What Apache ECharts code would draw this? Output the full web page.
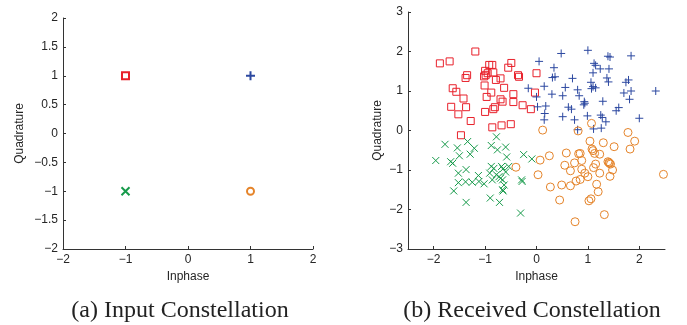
<!DOCTYPE html>
<html>
<head>
<meta charset="utf-8">
<script src="https://cdn.jsdelivr.net/npm/echarts@6/dist/echarts.min.js"></script>
<style>
  html, body { margin: 0; padding: 0; background: #fff; }
  #chart { width: 687px; height: 325px; }
</style>
</head>
<body>
<div id="chart"></div>
<script>
// 发送星座 (input constellation)
var inputSquare = [[-1, 1]];
var inputPlus = [[1, 1]];
var inputCross = [[-1, -1]];
var inputCircle = [[1, -1]];

// 接收星座 (received constellation)
var rxSquare = [
  [-1.88, 1.70], [-1.69, 1.75], [-1.19, 2.00], [-1.35, 1.40], [-1.38, 1.33], [-1.63, 1.07],
  [-1.56, 0.98], [-1.42, 0.81], [-1.66, 0.60], [-1.37, 0.59], [-1.52, 0.41], [-1.28, 0.24],
  [-1.47, -0.12], [-0.92, 1.66], [-0.86, 1.66], [-1.00, 1.51], [-0.99, 1.40], [-1.02, 1.37],
  [-0.95, 1.45], [-0.84, 1.47], [-0.79, 1.28], [-0.70, 1.32], [-0.55, 1.59], [-0.49, 1.71],
  [-0.36, 1.40], [-0.34, 1.36], [0.00, 1.45], [-1.01, 1.14], [-0.88, 0.96], [-0.63, 1.08],
  [-0.97, 0.85], [-0.70, 0.79], [-0.66, 0.73], [-0.45, 0.92], [-0.45, 0.72], [-0.81, 0.59],
  [-0.84, 0.54], [-1.00, 0.47], [-0.27, 0.64], [-0.11, 0.54], [-0.03, 0.96], [-0.86, 0.08],
  [-0.68, 0.13], [-0.50, 0.16]
];
var rxPlus = [
  [0.05, 1.75], [0.48, 1.95], [1.00, 2.03], [0.34, 1.59], [0.36, 1.36], [0.31, 1.34],
  [0.70, 1.32], [1.12, 1.70], [1.15, 1.65], [1.39, 1.88], [1.43, 1.86], [1.84, 1.89],
  [1.10, 1.46], [1.24, 1.56], [1.41, 1.56], [1.37, 1.33], [1.40, 1.23], [1.06, 1.22],
  [1.10, 1.11], [1.15, 1.08], [1.07, 1.06], [1.74, 1.22], [1.79, 1.28], [1.84, 1.00],
  [1.70, 0.95], [2.32, 1.00], [1.81, 0.79], [1.60, 0.58], [1.55, 0.50], [2.00, 0.31],
  [-0.16, 1.07], [0.00, 0.85], [0.15, 1.12], [0.30, 0.92], [0.51, 0.88], [0.56, 1.09],
  [0.80, 1.03], [0.83, 0.88], [0.93, 0.73], [0.94, 0.69], [0.92, 0.65], [1.29, 0.74],
  [0.62, 0.59], [0.68, 0.54], [0.02, 0.60], [0.18, 0.62], [0.16, 0.43], [0.15, 0.27],
  [0.51, 0.35], [0.74, 0.27], [0.99, 0.37], [1.25, 0.39], [1.28, 0.33], [1.35, 0.22],
  [1.11, 0.04], [1.26, 0.06], [0.80, 0.02]
];
var rxCross = [
  [-1.96, -0.76], [-1.78, -0.35], [-1.67, -0.79], [-1.63, -0.83], [-1.54, -0.44], [-1.50, -0.64],
  [-1.34, -0.28], [-1.21, -0.45], [-1.29, -0.60], [-1.37, -0.99], [-1.52, -1.08], [-1.52, -1.32],
  [-1.61, -1.53], [-1.38, -1.30], [-1.25, -1.31], [-1.13, -1.14], [-1.12, -1.29], [-1.02, -1.35],
  [-1.37, -1.82], [-0.88, -0.38], [-0.78, -0.16], [-0.76, -0.49], [-0.60, -0.42], [-0.58, -0.67],
  [-0.88, -0.91], [-0.83, -0.96], [-0.91, -1.08], [-0.68, -0.91], [-0.65, -0.97], [-0.54, -0.91],
  [-0.73, -1.17], [-0.70, -1.21], [-0.66, -1.25], [-0.63, -1.38], [-0.66, -1.50], [-0.65, -1.53],
  [-0.78, -1.12], [-0.60, -1.05], [-0.86, -1.25], [-0.25, -0.61], [-0.09, -0.72], [-0.29, -1.25],
  [-0.28, -1.29], [-0.90, -1.71], [-0.72, -1.82], [-0.31, -2.09]
];
var rxCircle = [
  [0.12, 0.01], [0.81, -0.01], [1.07, 0.18], [1.78, -0.05], [1.91, -0.27], [1.82, -0.47],
  [1.51, -0.41], [1.30, -0.31], [1.04, -0.27], [1.08, -0.47], [1.10, -0.51], [1.13, -0.58],
  [1.23, -0.60], [0.25, -0.64], [0.07, -0.75], [0.03, -1.12], [-0.40, -0.93], [0.58, -0.57],
  [0.55, -0.88], [0.74, -0.82], [0.82, -0.59], [0.85, -0.58], [0.88, -0.76], [0.66, -1.02],
  [0.88, -0.98], [1.00, -1.17], [1.15, -0.85], [1.11, -0.94], [0.94, -1.08], [1.23, -1.08],
  [1.39, -0.79], [1.42, -0.83], [1.44, -0.85], [1.41, -0.81], [1.48, -1.00], [1.43, -1.16],
  [0.77, -1.28], [0.85, -1.24], [0.49, -1.38], [0.66, -1.40], [1.17, -1.36], [1.20, -1.55],
  [0.27, -1.43], [0.45, -1.76], [1.06, -1.73], [1.02, -1.78], [0.75, -2.31], [1.32, -2.13],
  [2.47, -1.11]
];

var rxXTicks = [-2, -1, 0, 1, 2];

var RED = "#e8212b";
var BLUE = "#2c48a0";
var GREEN = "#169a4a";
var ORANGE = "#e5842a";

var plusPath = "path://M0,5L10,5M5,0L5,10";
var crossPath = "path://M0,0L10,10M10,0L0,10";

function fmt(v) {
  return String(v).replace("-", "\u2212");
}

function axisStyle() {
  return {
    axisLine: { show: true, onZero: false, lineStyle: { color: "#333", width: 1 } },
    axisTick: { show: true, inside: true, length: 3, lineStyle: { color: "#333" } },
    axisLabel: { color: "#262626", fontFamily: "Liberation Sans", fontSize: 12, formatter: fmt, margin: 5 },
    splitLine: { show: false },
    nameTextStyle: { color: "#262626", fontFamily: "Liberation Sans", fontSize: 12 }
  };
}

function mark(idx, data, symbol, size, color, width) {
  return {
    type: "scatter",
    xAxisIndex: idx,
    yAxisIndex: idx,
    data: data,
    symbol: symbol,
    symbolSize: size,
    itemStyle: { color: "rgba(0,0,0,0)", borderColor: color, borderWidth: width, opacity: 1 },
    emphasis: { disabled: true },
    silent: true
  };
}

var chart = echarts.init(document.getElementById("chart"));

var x0 = Object.assign(axisStyle(), {
  gridIndex: 0, type: "value", min: -2, max: 2, interval: 1,
  name: "Inphase", nameLocation: "middle", nameGap: 22
});
var y0 = Object.assign(axisStyle(), {
  gridIndex: 0, type: "value", min: -2, max: 2, interval: 0.5,
  name: "Quadrature", nameLocation: "middle", nameGap: 37
});
var x1 = Object.assign(axisStyle(), {
  gridIndex: 1, type: "value", min: -2.5, max: 2.5,
  name: "Inphase", nameLocation: "middle", nameGap: 22
});
x1.axisLabel.customValues = rxXTicks;
x1.axisTick.customValues = rxXTicks;
var y1 = Object.assign(axisStyle(), {
  gridIndex: 1, type: "value", min: -3, max: 3, interval: 1,
  name: "Quadrature", nameLocation: "middle", nameGap: 24
});

var captionStyle = { fontFamily: "Liberation Serif", fontSize: 24, fontWeight: "normal", color: "#222" };

var option = {
  animation: false,
  backgroundColor: "#fff",
  grid: [
    { left: 63, right: 374, top: 18, bottom: 76 },
    { left: 408, right: 22, top: 12, bottom: 76 }
  ],
  xAxis: [x0, x1],
  yAxis: [y0, y1],
  title: [
    { text: "(a) Input Constellation", left: 175, top: 294, textAlign: "center", textStyle: captionStyle },
    { text: "(b) Received Constellation", left: 527, top: 294, textAlign: "center", textStyle: captionStyle }
  ],
  series: [
    mark(0, inputSquare, "rect", 7, RED, 2),
    mark(0, inputPlus, plusPath, 9, BLUE, 2),
    mark(0, inputCross, crossPath, 8, GREEN, 2),
    mark(0, inputCircle, "circle", 7, ORANGE, 2),
    mark(1, rxSquare, "rect", 7, RED, 1),
    mark(1, rxPlus, plusPath, 8, BLUE, 1),
    mark(1, rxCross, crossPath, 7, GREEN, 1),
    mark(1, rxCircle, "circle", 8, ORANGE, 1)
  ]
};

chart.setOption(option);
</script>
</body>
</html>
